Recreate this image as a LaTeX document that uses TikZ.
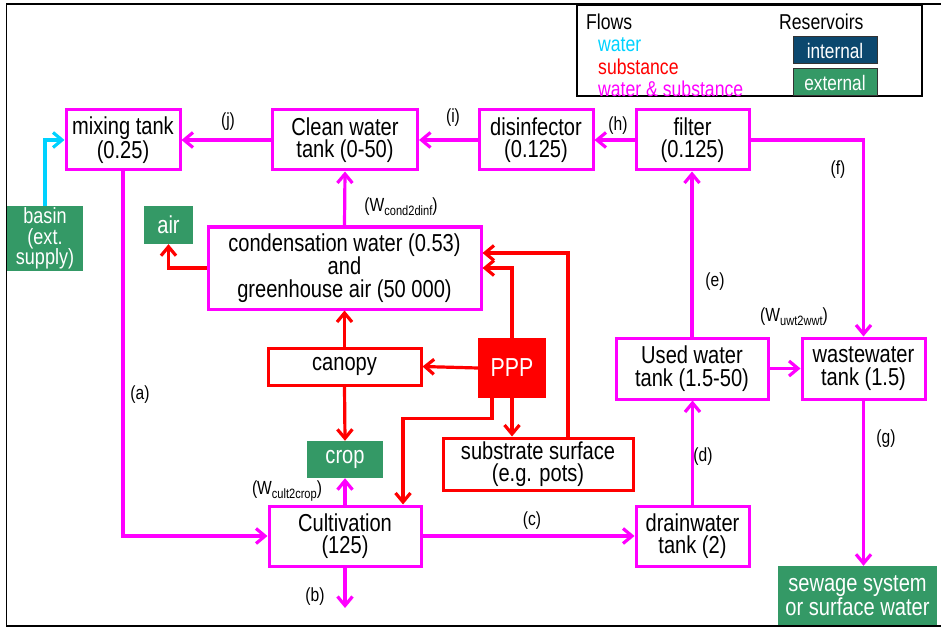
\documentclass[tikz,border=0pt]{standalone}
\usepackage{fontspec}
\setmainfont[FakeStretch=0.82]{Liberation Sans}
\usetikzlibrary{arrows.meta}
\definecolor{mag}{RGB}{255,0,255}
\definecolor{rd}{RGB}{255,0,0}
\definecolor{cy}{RGB}{0,210,255}
\definecolor{grn}{RGB}{52,153,102}
\definecolor{dblue}{RGB}{12,72,110}
\newcommand{\mainsz}{\fontsize{24.5}{22.5}\selectfont}
\newcommand{\lblsz}{\fontsize{19}{19}\selectfont}
\newcommand{\subw}[1]{\raisebox{-3.5pt}{\fontsize{13.5}{13.5}\selectfont #1}}
\tikzset{
  base/.style={inner sep=0pt, align=center, font=\mainsz},
  mbox/.style={base, draw=mag, line width=3pt, fill=white},
  rbox/.style={base, draw=rd, line width=3pt, fill=white},
  gbox/.style={base, fill=grn, text=white},
  tip/.style={-{Straight Barb[length=9pt,width=15pt]}},
  mflow/.style={tip, draw=mag, line width=3.2pt},
  rflow/.style={tip, draw=rd, line width=3.2pt},
  cflow/.style={tip, draw=cy, line width=3.2pt},
  lbl/.style={inner sep=0pt, font=\lblsz},
  legtxt/.style={inner sep=0pt, anchor=west, font=\fontsize{21.5}{21.5}\selectfont}
}
\begin{document}
\begin{tikzpicture}[x=1pt,y=-1pt]
\useasboundingbox (0,0) rectangle (941,628);
% outer frame
\draw[line width=1.5pt] (950,4) -- (6.5,4) -- (6.5,626) -- (950,626);

% legend
\node[draw=black, line width=1.5pt, minimum width=345pt, minimum height=91pt, inner sep=0pt] (legend) at (749.5,50.5) {};
\node[legtxt] (lflows) at (586,22) {Flows};
\node[legtxt] (lres) at (779,22) {Reservoirs};
\node[legtxt, text=cy] (lwater) at (598,45) {water};
\node[legtxt, text=rd] (lsub) at (598,67) {substance};
\node[legtxt, text=mag] (lws) at (598,89) {water \& substance};
\node[base, fill=dblue, draw=black!80, line width=1pt, text=white, minimum width=84pt, minimum height=27pt, font=\fontsize{21}{21}\selectfont] (lint) at (835,50.5) {internal};
\node[base, fill=grn, draw=black!80, line width=1pt, text=white, minimum width=84pt, minimum height=27pt, font=\fontsize{21}{21}\selectfont] (lext) at (835,82.5) {external};

% boxes
\node[mbox, minimum width=114pt, minimum height=60pt] (mix) at (123,140) {mixing tank\\(0.25)};
\node[mbox, minimum width=145pt, minimum height=60pt] (clean) at (345,140) {Clean water\\tank (0-50)};
\node[mbox, minimum width=114pt, minimum height=60pt] (disinf) at (536,140) {disinfector\\(0.125)};
\node[mbox, minimum width=113pt, minimum height=60pt] (filter) at (692.5,140) {filter\\(0.125)};
\node[mbox, minimum width=273pt, minimum height=82pt] (cond) at (344.5,268) {condensation water (0.53)\\and\\greenhouse air (50 000)};
\node[rbox, minimum width=153pt, minimum height=37pt] (canopy) at (344.5,366.5) {canopy};
\node[base, fill=rd, text=white, minimum width=68pt, minimum height=60pt, font=\fontsize{26}{26}\selectfont] (ppp) at (512,368) {PPP};
\node[gbox, minimum width=76pt, minimum height=37pt] (crop) at (345,459.5) {crop};
\node[rbox, minimum width=190pt, minimum height=52pt] (sub) at (538,464) {substrate surface\\(e.g. pots)};
\node[mbox, minimum width=152pt, minimum height=60pt] (cult) at (345,536) {Cultivation\\(125)};
\node[mbox, minimum width=113pt, minimum height=60pt] (drain) at (692.5,536) {drainwater\\tank (2)};
\node[mbox, minimum width=152pt, minimum height=61pt] (used) at (692,368.5) {Used water\\tank (1.5-50)};
\node[mbox, minimum width=123pt, minimum height=61pt] (waste) at (863.5,368.5) {wastewater\\tank (1.5)};
\node[gbox, minimum width=159pt, minimum height=59pt] (sewage) at (857.5,595.5) {sewage system\\or surface water};
\node[gbox, minimum width=76pt, minimum height=65pt, font=\fontsize{22}{20.5}\selectfont] (basin) at (45,238.5) {basin\\(ext.\\supply)};
\node[gbox, minimum width=49pt, minimum height=38pt] (air) at (168.5,225) {air};

\coordinate (bout) at (345,608);

% magenta flows
\draw[cflow] (basin.north) |- (mix.west);
\draw[mflow] (clean.west) -- (mix.east);
\draw[mflow] (disinf.west) -- (clean.east);
\draw[mflow] (filter.west) -- (disinf.east);
\draw[mflow] (filter.east) -| (waste.north);
\draw[mflow] (used.north) -- (used.north |- filter.south);
\draw[mflow] (cond.north) -- (clean.south);
\draw[mflow] (used.east) -- (waste.west);
\draw[mflow] (waste.south) -- (waste.south |- sewage.north);
\draw[mflow] (drain.north) -- (drain.north |- used.south);
\draw[mflow] (cult.east) -- (drain.west);
\draw[mflow] (mix.south) |- (cult.west);
\draw[mflow] (cult.south) -- (bout);
\draw[mflow] (cult.north) -- (crop.south);

% red flows
\draw[rflow] (cond.west) -| (air.south);
\draw[rflow] (canopy.north) -- (cond.south);
\draw[rflow] (canopy.south) -- (crop.north);
\draw[rflow] (ppp.west) -- (canopy.east);
\draw[rflow] (ppp.north) |- (cond.east);
\draw[rflow] ([xshift=30pt]sub.north) |- ([yshift=15pt]cond.east);
\draw[rflow] (ppp.south) -- (ppp.south |- sub.north);
\draw[rflow] ([xshift=-20pt]ppp.south) -- ++(0,20) -| ([xshift=58pt]cult.north);

% labels
\node[lbl] (lj) at (228,122) {(j)};
\node[lbl] (li) at (453,118) {(i)};
\node[lbl] (lh) at (618,126) {(h)};
\node[lbl] (lf) at (838,170) {(f)};
\node[lbl] (le) at (715,282) {(e)};
\node[lbl] (lg) at (886,439) {(g)};
\node[lbl] (ld) at (703,457) {(d)};
\node[lbl] (lc) at (532,521) {(c)};
\node[lbl] (la) at (140,395) {(a)};
\node[lbl] (lb) at (315,597) {(b)};
\node[lbl] (lw1) at (401,207) {(W\subw{cond2dinf})};
\node[lbl] (lw2) at (794,317) {(W\subw{uwt2wwt})};
\node[lbl] (lw3) at (287,491) {(W\subw{cult2crop})};
\end{tikzpicture}
\end{document}
